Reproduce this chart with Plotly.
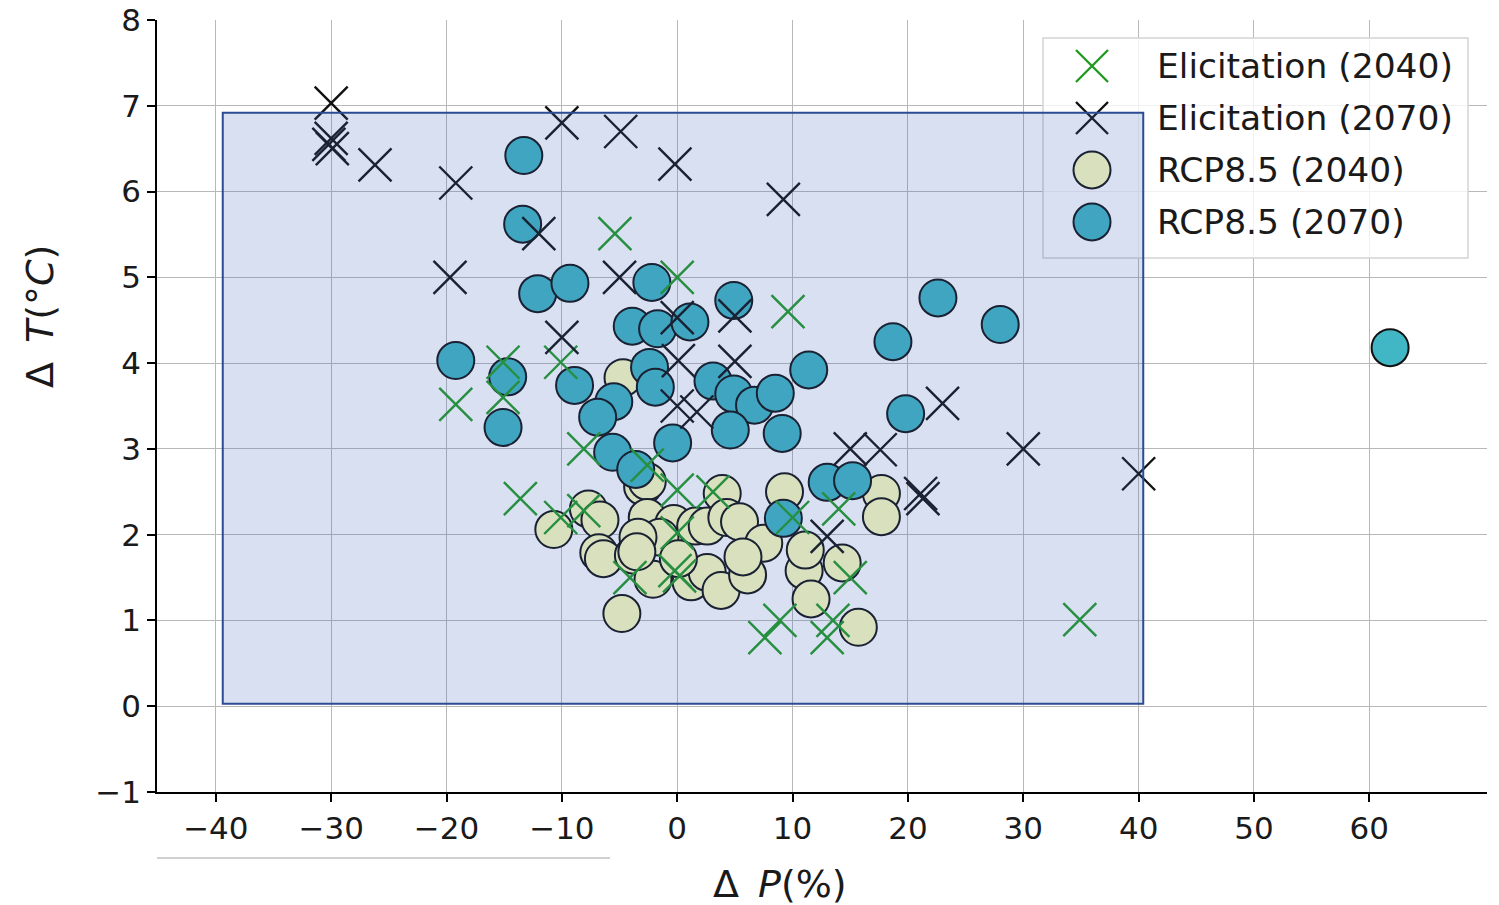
import plotly.graph_objects as go

# ---------------- data ----------------
elic2040_dp = [-5.4, 0.0, 9.6, -15.1, -15.1, -19.2, -10.1, -8.1, -13.6, -10.1, -8.1, -2.6, 0.0, 3.1,
               0.0, -4.1, -0.2, 0.2, 10.0, 14.0, 15.0, 8.9, 7.6, 13.5, 13.0, 34.9]
elic2040_dt = [5.51, 5.0, 4.6, 4.01, 3.6, 3.52, 4.01, 3.0, 2.42, 2.2, 2.28, 2.81, 2.52, 2.5,
               2.02, 1.5, 1.58, 1.52, 2.2, 2.3, 1.5, 1.0, 0.8, 1.0, 0.8, 1.01]

elic2070_dp = [-30.0, -30.0, -30.2, -29.9, -26.2, -19.2, -19.7, -10.0, -4.9, -0.2, 9.2, -12.0, -5.0,
               -10.0, 0.0, 5.0, 0.1, 5.0, 0.0, 1.7, 15.0, 17.6, 23.0, 30.0, 40.0, 21.1, 21.3, 13.0]
elic2070_dt = [7.03, 6.62, 6.55, 6.5, 6.31, 6.1, 5.0, 6.8, 6.7, 6.32, 5.91, 5.51, 5.0,
               4.3, 4.53, 4.55, 4.03, 4.02, 3.5, 3.43, 3.0, 2.99, 3.53, 3.0, 2.71, 2.48, 2.42, 1.98]

rcp2040_dp = [-10.7, -7.7, -6.7, -6.8, -6.4, -3.8, -2.1, -4.8, -3.0, -2.6, -2.6, -0.3, 1.6, 2.6,
              3.9, 4.3, 5.4, 7.5, 1.2, 2.6, 3.8, 6.1, 5.7, 9.3, 11.0, 11.6, 11.1, 14.3, 15.7,
              17.7, 17.7, -1.5, -3.4, 0.1, -4.7, -3.5]
rcp2040_dt = [2.06, 2.3, 2.17, 1.79, 1.72, 1.76, 1.48, 1.08, 2.56, 2.62, 2.2, 2.13, 2.1, 2.1,
              2.48, 2.2, 2.15, 1.9, 1.45, 1.56, 1.35, 1.53, 1.74, 2.5, 1.58, 1.25, 1.82, 1.67, 0.92,
              2.48, 2.21, 1.97, 1.97, 1.72, 3.83, 1.8]

rcp2070_dp = [-13.3, -13.4, -12.1, -9.3, -19.2, -2.2, 4.9, -3.9, -1.7, 1.1, -14.7, -15.1, -8.9,
              -5.5, -6.9, -2.4, -1.9, 3.1, 4.9, 6.7, 8.5, 11.4, 4.6, 9.1, -0.4, -5.6, -3.6,
              13.0, 15.2, 18.7, 22.6, 28.0, 19.8, 9.2, 61.8]
rcp2070_dt = [6.42, 5.62, 4.81, 4.93, 4.03, 4.94, 4.73, 4.43, 4.4, 4.48, 3.84, 3.25, 3.74,
              3.55, 3.37, 3.95, 3.72, 3.79, 3.64, 3.51, 3.65, 3.92, 3.22, 3.18, 3.07, 2.96, 2.76,
              2.61, 2.63, 4.25, 4.76, 4.45, 3.41, 2.19, 4.18]

series_names = ["Elicitation (2040)", "Elicitation (2070)", "RCP8.5 (2040)", "RCP8.5 (2070)"]
x_ticks = [-40, -30, -20, -10, 0, 10, 20, 30, 40, 50, 60]
y_ticks = [-1, 0, 1, 2, 3, 4, 5, 6, 7, 8]

# ---------------- style ----------------
FONT = "DejaVu Sans"
GREEN = "#229a22"
BLACK = "#111111"
TAN = "#ffffbf"
CYAN = "#41b6c4"
EDGE = "#111111"

W, H = 1499, 905
ML, MR, MT, MB = 157, 12, 20, 113
PW, PH = W - ML - MR, H - MT - MB


def px_to_paper(px, py):
    return (px - ML) / PW, (H - MB - py) / PH


fig = go.Figure()

fig.add_trace(go.Scatter(x=rcp2040_dp, y=rcp2040_dt, mode="markers", name=series_names[2],
                         marker=dict(symbol="circle", size=37, color=TAN,
                                     line=dict(color=EDGE, width=2)), showlegend=False))
fig.add_trace(go.Scatter(x=rcp2070_dp, y=rcp2070_dt, mode="markers", name=series_names[3],
                         marker=dict(symbol="circle", size=37, color=CYAN,
                                     line=dict(color=EDGE, width=2)), showlegend=False))
fig.add_trace(go.Scatter(x=elic2040_dp, y=elic2040_dt, mode="markers", name=series_names[0],
                         marker=dict(symbol="x-thin", size=33, color=GREEN,
                                     line=dict(color=GREEN, width=2.4)), showlegend=False))
fig.add_trace(go.Scatter(x=elic2070_dp, y=elic2070_dt, mode="markers", name=series_names[1],
                         marker=dict(symbol="x-thin", size=33, color=BLACK,
                                     line=dict(color=BLACK, width=2.4)), showlegend=False))

shapes = []
annotations = []

# ---- legend (custom, drawn below the shaded rectangle like the reference) ----
lx0, ly0 = px_to_paper(1043, 38)
lx1, ly1 = px_to_paper(1468, 258)
shapes.append(dict(type="rect", xref="paper", yref="paper", x0=lx0, x1=lx1, y0=ly1, y1=ly0,
                   fillcolor="rgba(255,255,255,0.8)", line=dict(color="#d4d4d4", width=1.5),
                   layer="above"))
row_y = [66, 118, 170, 222]
key_x = 1092
text_x = 1155
kinds = [("x", GREEN), ("x", BLACK), ("o", TAN), ("o", CYAN)]
for (kind, col), ry, name in zip(kinds, row_y, series_names):
    ax, ay = px_to_paper(key_x, ry)
    if kind == "x":
        shapes.append(dict(type="path", xref="paper", yref="paper", xsizemode="pixel",
                           ysizemode="pixel", xanchor=ax, yanchor=ay,
                           path="M-16,-16 L16,16 M-16,16 L16,-16",
                           line=dict(color=col, width=2.4), layer="above"))
    else:
        shapes.append(dict(type="circle", xref="paper", yref="paper", xsizemode="pixel",
                           ysizemode="pixel", xanchor=ax, yanchor=ay,
                           x0=-18.5, x1=18.5, y0=-18.5, y1=18.5, fillcolor=col,
                           line=dict(color=EDGE, width=2), layer="above"))
    tx, ty = px_to_paper(text_x, ry)
    annotations.append(dict(x=tx, y=ty, xref="paper", yref="paper", text=name, showarrow=False,
                            xanchor="left", yanchor="middle",
                            font=dict(family=FONT, size=34.5, color="#1a1a1a")))

# ---- shaded rectangle (drawn on top of everything) ----
shapes.append(dict(type="rect", xref="x", yref="y", x0=-39.4, x1=40.4, y0=0.03, y1=6.92,
                   fillcolor="rgba(60,100,185,0.2)", line=dict(color="#2b4b92", width=2),
                   layer="above"))

# ---- stray line below the axis (as in the reference crop) ----
sx0, sy0 = px_to_paper(157, 858)
sx1, _ = px_to_paper(610, 858)
shapes.append(dict(type="line", xref="paper", yref="paper", x0=sx0, x1=sx1, y0=sy0, y1=sy0,
                   line=dict(color="#d0d0d0", width=2), layer="above"))

# ---- axis titles ----
xtx, xty = px_to_paper(780, 884)
annotations.append(dict(x=xtx, y=xty, xref="paper", yref="paper",
                        text="Δ\u2002<i>P</i>(%)", showarrow=False, xanchor="center",
                        yanchor="middle",
                        font=dict(family=FONT, size=38, color="#1a1a1a")))
ytx, yty = px_to_paper(40, 317)
annotations.append(dict(x=ytx, y=yty, xref="paper", yref="paper",
                        text="Δ\u2002<i>T</i>(°<i>C</i>)", showarrow=False, textangle=-90,
                        xanchor="center", yanchor="middle",
                        font=dict(family=FONT, size=38, color="#1a1a1a")))

axis_common = dict(showgrid=True, gridcolor="#b8b8b8", gridwidth=1.3, zeroline=False,
                   showline=True, linecolor="black", linewidth=1.6, ticks="outside",
                   ticklen=8, tickwidth=1.5, tickcolor="black", automargin=False,
                   tickfont=dict(family=FONT, size=31, color="#1a1a1a"))

fig.update_layout(
    width=W, height=H,
    margin=dict(l=ML, r=MR, t=MT, b=MB, autoexpand=False),
    paper_bgcolor="white", plot_bgcolor="white",
    showlegend=False,
    xaxis=dict(range=[-45.1, 70.2], tickmode="array", tickvals=x_ticks, **axis_common),
    yaxis=dict(range=[-1, 8], tickmode="array", tickvals=y_ticks, **axis_common),
    shapes=shapes,
    annotations=annotations,
)

fig.write_html("out.html", config={"displayModeBar": False},
               post_script="document.body.style.margin='0px';document.body.style.padding='0px';")
